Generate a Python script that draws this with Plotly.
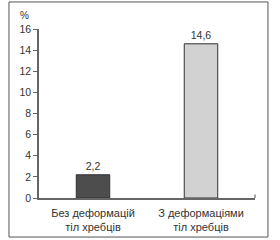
import plotly.graph_objects as go

categories = ["Без деформацій<br>тіл хребців", "З деформаціями<br>тіл хребців"]
values = [2.2, 14.6]
tick_vals = [0, 2, 4, 6, 8, 10, 12, 14, 16]
bar_colors = ["#4d4d4d", "#d2d2d2"]

labels = [f"{v:.1f}".replace(".", ",") for v in values]

fig = go.Figure(go.Bar(
    x=categories, y=values, width=0.31,
    marker=dict(color=bar_colors, line=dict(color="#333333", width=1)),
    text=labels, textposition="outside", cliponaxis=False,
    textfont=dict(family="Liberation Sans, Arial", size=10.5, color="#333333"),
))

fig.update_layout(
    width=280, height=240,
    margin=dict(l=39, r=25, t=29, b=42),
    paper_bgcolor="white", plot_bgcolor="white",
    showlegend=False,
    font=dict(family="Liberation Sans, Arial", size=10, color="#333333"),
    xaxis=dict(range=[-0.5, 1.5], showline=True, linecolor="#666666", linewidth=1.5,
               ticks="", showgrid=False, tickfont=dict(size=11), ticklabelstandoff=4,
               automargin=False),
    yaxis=dict(range=[0, 16], tickvals=tick_vals, showline=True, linecolor="#666666",
               linewidth=1.5, ticks="outside", ticklen=4, tickcolor="#666666",
               showgrid=False, zeroline=False, tickfont=dict(size=10.5), automargin=False),
    shapes=[
        dict(type="rect", xref="paper", yref="paper", x0=-0.139, x1=1.060, y0=-0.231, y1=1.160,
             line=dict(color="#555555", width=1)),
        dict(type="line", xref="paper", yref="paper", x0=1.0, x1=1.0, y0=0, y1=0.02,
             line=dict(color="#666666", width=1.2)),
    ],
    annotations=[
        dict(text="%", xref="paper", yref="paper", x=-0.035, y=1.08, showarrow=False,
             xanchor="right", yanchor="middle", font=dict(size=10, color="#333333")),
    ],
)

fig.write_html("out.html")
